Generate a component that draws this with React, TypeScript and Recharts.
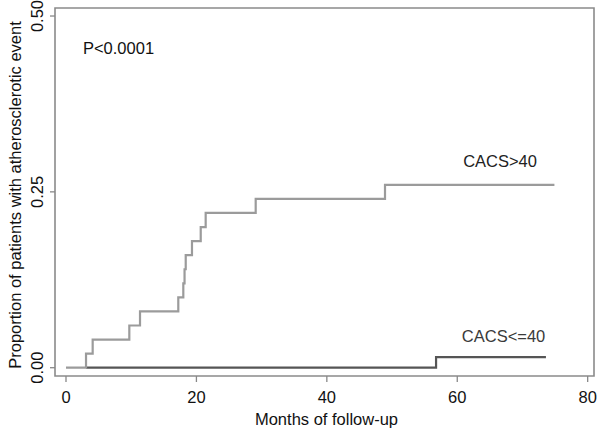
import React from "react";
import { LineChart, Line, XAxis, YAxis, ReferenceArea, ReferenceDot } from "recharts";

const highMonths = [0, 3.07, 4.09, 9.71, 11.35, 17.22, 17.99, 18.18, 18.36, 19.32, 20.66, 21.42, 29.09, 48.92, 74.9];
const highProps = [0, 0.02, 0.04, 0.06, 0.08, 0.1, 0.12, 0.14, 0.16, 0.18, 0.2, 0.22, 0.24, 0.26, 0.26];
const lowMonths = [3.07, 56.75, 73.6];
const lowProps = [0, 0.015, 0.015];

const xTicks = [0, 20, 40, 60, 80];
const yTicks = [0, 0.25, 0.5];

const xDomain: [number, number] = [-1.687, 80.97];
const yDomain: [number, number] = [-0.0118, 0.5114];

const annotations = [
  { text: "P<0.0001", month: 2.6, prop: 0.446, color: "#111" },
  { text: "CACS>40", month: 60.9, prop: 0.2853, color: "#222" },
  { text: "CACS<=40", month: 60.7, prop: 0.0372, color: "#3a3a3a" },
];

const xAxisLabel = "Months of follow-up";
const yAxisLabel = "Proportion of patients with atherosclerotic event";

const FONT = "'Liberation Sans', Arial, sans-serif";

const highData = highMonths.map((m, i) => ({ x: m, y: highProps[i] }));
const lowData = lowMonths.map((m, i) => ({ x: m, y: lowProps[i] }));

const YTick = (props: any) => {
  const { x, y, payload } = props;
  const bx = x - 5;
  return (
    <text x={bx} y={y} transform={`rotate(-90, ${bx}, ${y})`} textAnchor="middle" fontSize={16.5} fontFamily={FONT} fill="#111">
      {Number(payload.value).toFixed(2)}
    </text>
  );
};

const XTick = (props: any) => {
  const { x, y, payload } = props;
  return (
    <text x={x} y={y + 19} textAnchor="middle" fontSize={16.5} fontFamily={FONT} fill="#111">
      {payload.value}
    </text>
  );
};

const AnnotationShape = (text: string, color: string) => (props: any) => {
  const { cx, cy } = props;
  return (
    <text x={cx} y={cy} textAnchor="start" fontSize={16.5} fontFamily={FONT} fill={color}>
      {text}
    </text>
  );
};

export default function App() {
  return (
    <div style={{ position: "absolute", left: 0, top: 0, width: 600, height: 431, background: "#fff" }}>
      <LineChart width={600} height={431} margin={{ top: 8, right: 6, bottom: 0, left: 0 }}>
        <XAxis
          type="number"
          dataKey="x"
          domain={xDomain}
          ticks={xTicks}
          allowDataOverflow
          height={55}
          axisLine={false}
          tickSize={6}
          tickLine={{ stroke: "#888", strokeWidth: 1.3 }}
          tick={<XTick />}
          label={{ value: xAxisLabel, position: "insideBottom", offset: 0, content: (p: any) => {
            const vb = p.viewBox;
            return (
              <text x={vb.x + vb.width / 2 + 2} y={425} textAnchor="middle" fontSize={16.5} fontFamily={FONT} fill="#111">
                {xAxisLabel}
              </text>
            );
          } }}
        />
        <YAxis
          type="number"
          dataKey="y"
          domain={yDomain}
          ticks={yTicks}
          allowDataOverflow
          width={55}
          axisLine={false}
          tickSize={5}
          tickLine={{ stroke: "#888", strokeWidth: 1.3 }}
          tick={<YTick />}
          label={{ value: yAxisLabel, content: (p: any) => {
            const vb = p.viewBox;
            const cy = vb.y + vb.height / 2 + 3;
            return (
              <text x={21} y={cy} transform={`rotate(-90, 21, ${cy})`} textAnchor="middle" fontSize={16.5} fontFamily={FONT} fill="#111">
                {yAxisLabel}
              </text>
            );
          } }}
        />
        <ReferenceArea x1={xDomain[0]} x2={xDomain[1]} y1={yDomain[0]} y2={yDomain[1]} fill="none" stroke="#8a8a8a" strokeWidth={1.6} ifOverflow="visible" />
        <Line data={lowData} dataKey="y" type="stepAfter" stroke="#555" strokeWidth={2.2} dot={false} isAnimationActive={false} />
        <Line data={highData} dataKey="y" type="stepAfter" stroke="#9b9b9b" strokeWidth={2.2} dot={false} isAnimationActive={false} />
        {annotations.map((a) => (
          <ReferenceDot key={a.text} x={a.month} y={a.prop} r={0} ifOverflow="visible" shape={AnnotationShape(a.text, a.color)} />
        ))}
      </LineChart>
    </div>
  );
}
